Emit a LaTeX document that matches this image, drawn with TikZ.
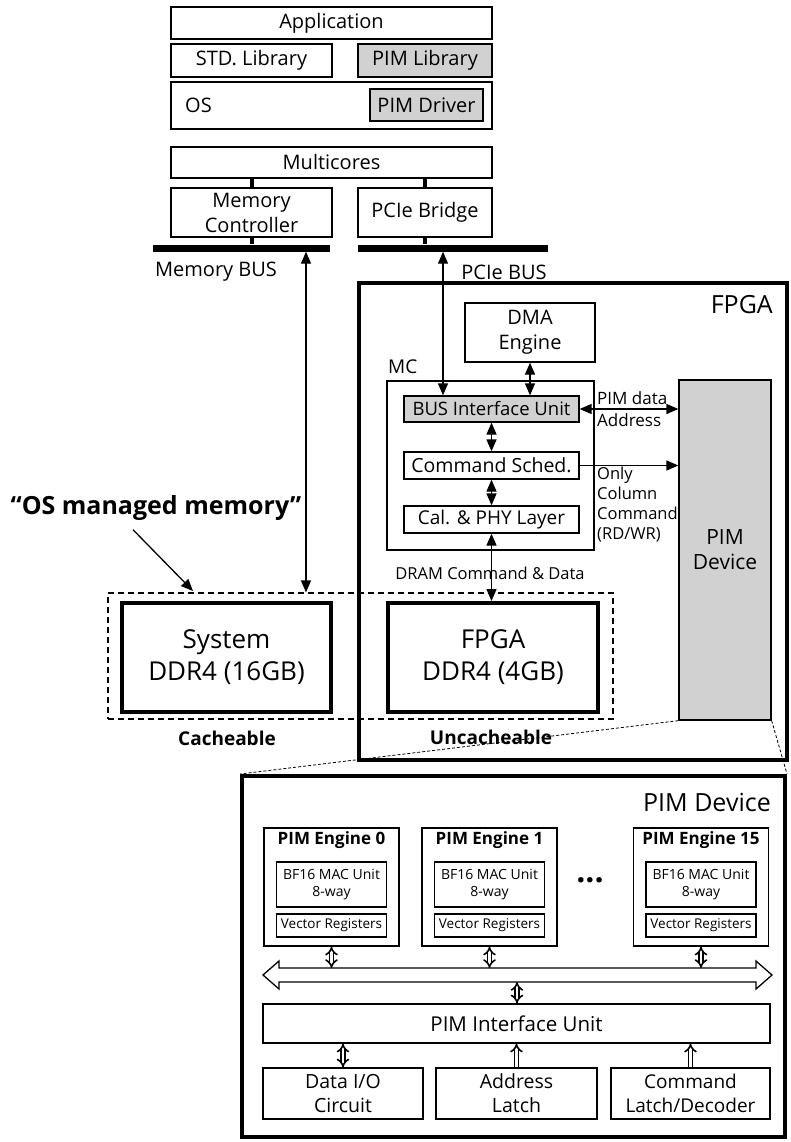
\documentclass[tikz,border=0pt]{standalone}
\usepackage{fontspec}
\setmainfont{Open Sans}
\usetikzlibrary{arrows.meta}
\newcommand\fsz[2]{\fontsize{#1}{#2}\selectfont}

\begin{document}
\begin{tikzpicture}[x=1pt,y=-1pt,
  blk/.style={draw, line width=1.3pt, inner sep=0pt, align=center, font=\fsz{20}{24}},
  shade/.style={fill=black!18},
  heavy/.style={draw, line width=4pt, inner sep=0pt, align=center},
  busbar/.style={fill=black, inner sep=0pt, minimum height=7pt},
  link/.style={line width=4pt},
  con/.style={line width=1.3pt, >={Triangle[length=12pt,width=10pt]}},
  dbl/.style={double, double distance=2.6pt, line width=1.6pt},
  lbl/.style={inner sep=0pt, align=left},
]
\useasboundingbox (0,0) rectangle (790,1142);

% ---------------- host software / hardware stack ----------------
\node[blk, minimum width=321pt, minimum height=32pt] (app) at (331.5,23) {Application};
\node[blk, minimum width=161pt, minimum height=33pt] (stdlib) at (251.5,60.5) {STD. Library};
\node[blk, shade, minimum width=134pt, minimum height=33pt] (pimlib) at (425,60.5) {PIM Library};
\node[blk, minimum width=321pt, minimum height=47pt] (os) at (331.5,105.5) {};
\node[lbl, font=\fsz{20}{24}, anchor=west] (oslbl) at (185,105) {OS};
\node[blk, shade, minimum width=113pt, minimum height=32pt] (pimdrv) at (426.5,105) {PIM Driver};

\node[blk, minimum width=321pt, minimum height=31pt] (multi) at (331.5,162.5) {Multicores};
\node[blk, font=\fsz{20}{25}, minimum width=161pt, minimum height=49pt] (memctl) at (251.5,212.5) {Memory\\Controller};
\node[blk, minimum width=134pt, minimum height=49pt] (pcieb) at (425,212.5) {PCIe Bridge};

\node[busbar, minimum width=177pt] (membus) at (241.5,248) {};
\node[busbar, minimum width=190pt] (pciebus) at (453,248) {};
\node[lbl, font=\fsz{20}{24}] (membuslbl) at (216,272) {Memory BUS};
\node[lbl, font=\fsz{20}{24}] (pciebuslbl) at (504,272) {PCIe BUS};

\draw[link] (multi.south -| memctl.north) -- (memctl.north);
\draw[link] (multi.south -| pcieb.north) -- (pcieb.north);
\draw[link] (memctl.south) -- (membus.north -| memctl.south);
\draw[link] (pcieb.south) -- (pciebus.north -| pcieb.south);

% ---------------- FPGA board ----------------
\node[heavy, minimum width=428pt, minimum height=477pt] (fpga) at (573,521.5) {};
\node[lbl, font=\fsz{25}{28}, anchor=east] (fpgalbl) at (773,305) {FPGA};

\node[blk, font=\fsz{20}{25}, minimum width=130pt, minimum height=59pt] (dma) at (530,332.5) {DMA\\Engine};
\node[lbl, font=\fsz{19}{22}, anchor=west] (mclbl) at (388,367) {MC};
\node[blk, minimum width=207pt, minimum height=169pt] (mc) at (490.5,465.5) {};
\node[blk, shade, font=\fsz{18.5}{22}, minimum width=175pt, minimum height=26pt] (biu) at (491.5,409) {BUS Interface Unit};
\node[blk, font=\fsz{19.5}{22}, minimum width=175pt, minimum height=27pt] (sched) at (491.5,465.5) {Command Sched.};
\node[blk, font=\fsz{19}{22}, minimum width=175pt, minimum height=27pt] (phy) at (491.5,519.5) {Cal. \& PHY Layer};

\node[blk, shade, font=\fsz{21}{25}, minimum width=92pt, minimum height=340pt] (pimdev) at (725,550) {PIM\\Device};

\node[lbl, font=\fsz{17}{20}, anchor=west] (pimdata) at (597,398) {PIM data};
\node[lbl, font=\fsz{17}{20}, anchor=west] (addrlbl) at (597,420) {Address};
\node[lbl, font=\fsz{16.5}{20}, anchor=north west] (collbl) at (597,467) {Only\\Column\\Command\\(RD/WR)};

% ---------------- DRAM ----------------
\node[draw, dashed, line width=1.2pt, dash pattern=on 6pt off 4pt, minimum width=505pt, minimum height=126pt] (osmem) at (360.5,656) {};
\node[heavy, font=\fsz{26}{32}, minimum width=209pt, minimum height=109pt] (sysddr) at (226.5,657.5) {System\\DDR4 (16GB)};
\node[heavy, font=\fsz{26}{32}, minimum width=210pt, minimum height=109pt] (fpgaddr) at (493,657.5) {FPGA\\DDR4 (4GB)};
\node[lbl, font=\bfseries\fsz{19}{22}] (cachelbl) at (227,738) {Cacheable};
\node[lbl, font=\bfseries\fsz{19}{22}] (uncachelbl) at (491,737) {Uncacheable};
\node[lbl, font=\bfseries\fsz{25}{28}] (osmemlbl) at (156,508) {“OS managed memory”};
\node[lbl, font=\fsz{16.5}{19}] (dramlbl) at (490,573) {DRAM Command \& Data};

\coordinate (memcol) at (306,0);
\coordinate (pciecol) at (443,0);
\coordinate (osmemtip) at (193,591);

\draw[con, <->] (membus.south -| memcol) -- (osmem.north -| memcol);
\draw[con, <->] (pciebus.south -| pciecol) -- (biu.north -| pciecol);
\draw[con, ->] (osmemlbl.south -| 133,0) ++(0,9) -- (osmemtip);
\draw[con, <->] (dma.south) -- (biu.north -| dma.south);
\draw[con, <->] (biu.south) -- (sched.north);
\draw[con, <->] (sched.south) -- (phy.north);
\draw[con, <->] (phy.south) -- (fpgaddr.north -| phy.south);
\draw[con, <->] (biu.east) -- (pimdev.west |- biu.east);
\draw[con, ->] (sched.east) -- (pimdev.west |- sched.east);

% ---------------- PIM device detail ----------------
\node[heavy, minimum width=543pt, minimum height=361pt] (pimbig) at (513.5,956.5) {};
\node[lbl, font=\fsz{25}{28}, anchor=east] (pimbiglbl) at (771,802) {PIM Device};

\draw[densely dashed, line width=0.8pt] (pimdev.south west) -- (pimbig.north west);
\draw[densely dashed, line width=0.8pt] (pimdev.south east) -- (pimbig.north east);

\foreach \n/\cx/\num in {e0/331.5/0, e1/489.5/1, e15/701/15}{
  \node[blk, minimum width=135pt, minimum height=118pt] (\n) at (\cx,887) {};
  \node[lbl, font=\bfseries\fsz{17}{20}] (\n t) at (\cx,840) {PIM Engine \num};
  \node[blk, font=\fsz{14}{17}, minimum width=110pt, minimum height=45pt] (\n m) at (\cx,884.5) {BF16 MAC Unit\\8-way};
  \node[blk, font=\fsz{13.5}{16}, minimum width=110pt, minimum height=23pt] (\n v) at (\cx,925.5) {Vector Registers};
}
\node[lbl, font=\bfseries\fsz{32}{32}] (dots) at (590,880) {...};

% shared bus between engines and the interface unit
\draw[line width=1.3pt] (263,975) -- (279,961) -- (279,968) -- (756,968) -- (756,961)
  -- (772,975) -- (756,989) -- (756,982) -- (279,982) -- (279,989) -- cycle;
\coordinate (bustop) at (0,968);
\coordinate (busbot) at (0,982);
\coordinate (buscol) at (517,0);

\node[blk, font=\fsz{20.5}{24}, minimum width=507pt, minimum height=39pt] (pif) at (516.5,1023.5) {PIM Interface Unit};
\node[blk, font=\fsz{19.5}{24}, minimum width=160pt, minimum height=51pt] (dio) at (343,1093.5) {Data I/O\\Circuit};
\node[blk, font=\fsz{19.5}{24}, minimum width=161pt, minimum height=51pt] (alatch) at (516.5,1093.5) {Address\\Latch};
\node[blk, font=\fsz{19}{24}, minimum width=159pt, minimum height=51pt] (clatch) at (690.5,1093.5) {Command\\Latch/Decoder};

\foreach \n in {e0,e1,e15}{
  \draw[dbl, {Implies}-{Implies}] (\n.south) -- (\n.south |- bustop);
}
\draw[dbl, {Implies}-{Implies}] (busbot -| buscol) -- (pif.north -| buscol);
\draw[dbl, {Implies}-{Implies}] (dio.north) -- (pif.south -| dio.north);
\draw[dbl, -{Implies}] (alatch.north) -- (pif.south -| alatch.north);
\draw[dbl, -{Implies}] (clatch.north) -- (pif.south -| clatch.north);
\end{tikzpicture}
\end{document}
